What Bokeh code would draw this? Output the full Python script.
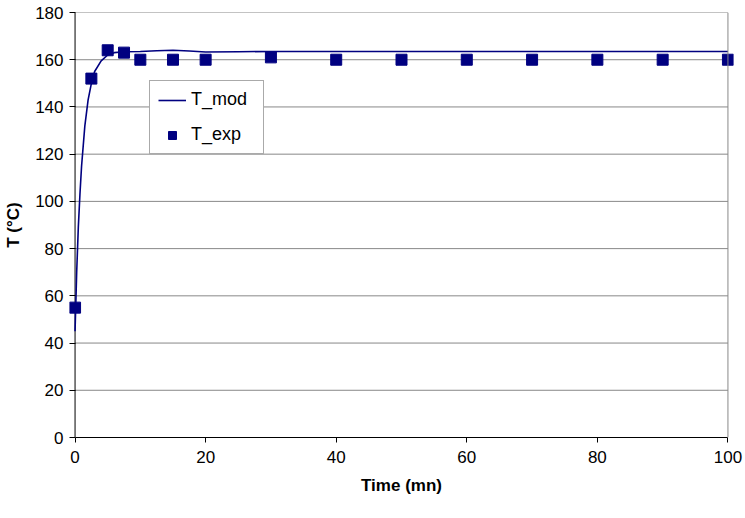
from bokeh.plotting import figure
from bokeh.models import Legend, LegendItem, Range1d, FixedTicker, Span
from bokeh.embed import file_html
from bokeh.resources import INLINE

# experimental data
t_exp = [0, 2.5, 5, 7.5, 10, 15, 20, 30, 40, 50, 60, 70, 80, 90, 100]
T_exp = [55, 152, 164, 163, 160, 160, 160, 161, 160, 160, 160, 160, 160, 160, 160]

# model curve
t_mod = [0, 0.25, 0.5, 0.75, 1, 1.5, 2, 2.5, 3, 4, 5, 6, 7.5, 10, 12.5, 15, 17.5, 20, 25, 30, 50, 70, 100]
T_mod = [45, 70, 89, 103, 115, 132, 143, 150, 155, 159.5, 162, 163, 163.4, 163.5, 163.8, 164, 163.7, 163.3, 163.4, 163.5, 163.5, 163.5, 163.5]

x_ticks = [0, 20, 40, 60, 80, 100]
y_ticks = [0, 20, 40, 60, 80, 100, 120, 140, 160, 180]
x_min, x_max = 0, 100
y_min, y_max = 0, 180
pad = 0.85  # small room so edge markers are not cut

FONT = "Liberation Sans"
NAVY = "#000080"
GRID = "#888888"

p = figure(width=745, height=518, output_backend="svg", toolbar_location=None,
           x_range=Range1d(x_min - pad, x_max + pad), y_range=Range1d(y_min, y_max),
           min_border_left=69, min_border_right=12, min_border_top=12, min_border_bottom=81)

# horizontal grid lines (within data range)
grid_rows = [yv for yv in y_ticks if yv > y_min]
p.segment(x0=[x_min] * len(grid_rows), x1=[x_max] * len(grid_rows),
          y0=grid_rows, y1=grid_rows, line_color=GRID, line_width=1)
p.add_layout(Span(location=x_max, dimension="height", line_color=GRID, line_width=1))
# vertical axis line at x = 0
p.segment(x0=[x_min], x1=[x_min], y0=[y_min], y1=[y_max], line_color="black", line_width=1)

line = p.line(t_mod, T_mod, line_color=NAVY, line_width=1.6)
sq = p.scatter(t_exp, T_exp, marker="square", size=11, fill_color=NAVY, line_color=NAVY)

p.xaxis.ticker = FixedTicker(ticks=x_ticks)
p.yaxis.ticker = FixedTicker(ticks=y_ticks)
p.xaxis.bounds = (x_min, x_max)
p.xaxis.axis_label = "Time (mn)"
p.yaxis.axis_label = "T (°C)"
for ax in (p.xaxis, p.yaxis):
    ax.axis_label_text_font = FONT
    ax.axis_label_text_font_style = "bold"
    ax.axis_label_text_font_size = "17px"
    ax.axis_label_text_color = "black"
    ax.major_label_text_font = FONT
    ax.major_label_text_font_size = "17px"
    ax.major_label_text_color = "black"
    ax.axis_line_color = "black"
    ax.major_tick_line_color = "black"
    ax.minor_tick_line_color = None
p.xaxis.major_tick_out = 5
p.xaxis.major_tick_in = 0
p.yaxis.axis_line_color = None
p.yaxis.major_tick_out = 0
p.yaxis.major_tick_in = 6
p.xaxis.axis_label_standoff = 10
p.yaxis.axis_label_standoff = 9
p.yaxis.major_label_standoff = 6
p.xaxis.major_label_standoff = 8

p.xgrid.grid_line_color = None
p.ygrid.grid_line_color = None
p.outline_line_color = None

legend = Legend(items=[LegendItem(label="T_mod", renderers=[line]),
                       LegendItem(label="T_exp", renderers=[sq])],
                location=(80, 283))
legend.label_text_font = FONT
legend.label_text_font_size = "18px"
legend.label_text_color = "black"
legend.border_line_color = "#555555"
legend.border_line_width = 1
legend.background_fill_alpha = 1
legend.padding = 8
legend.spacing = 14
legend.glyph_width = 28
legend.label_standoff = 5
legend.label_width = 64
legend.margin = 0
p.add_layout(legend)

open("out.html", "w").write(file_html(p, INLINE))
